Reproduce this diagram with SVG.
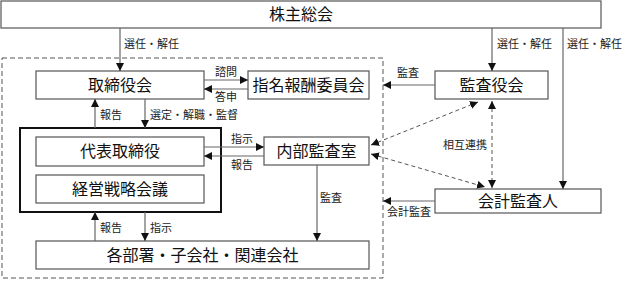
<svg xmlns="http://www.w3.org/2000/svg" width="624" height="281" viewBox="0 0 624 281">
<style>
.box{fill:#fff;stroke:#555;stroke-width:1.2}
.t{font-family:"Noto Sans CJK JP","Noto Sans CJK SC",sans-serif;font-size:16px;fill:#111;text-anchor:middle}
.s{font-family:"Noto Sans CJK JP","Noto Sans CJK SC",sans-serif;font-size:11px;fill:#222}
.c{fill:none;stroke:#666;stroke-width:1.2}
.d{fill:none;stroke:#555;stroke-width:1;stroke-dasharray:4,3}
</style>
<defs>
<marker id="ah" markerUnits="userSpaceOnUse" markerWidth="9" markerHeight="8" refX="8" refY="4" orient="auto-start-reverse">
<path d="M0,0 L8,4 L0,8 z" fill="#111"/>
</marker>
</defs>
<rect x="2" y="58" width="381" height="220" fill="none" stroke="#555" stroke-width="1" stroke-dasharray="5,3"/>
<g id="n-shareholders"><rect class="box" x="1" y="1" width="600" height="27"/><text class="t" x="301" y="20">株主総会</text></g>
<g id="n-board"><rect class="box" x="36" y="71" width="168" height="28"/><text class="t" x="120" y="91">取締役会</text></g>
<g id="n-committee"><rect class="box" x="248" y="71" width="121" height="28"/><text class="t" x="308.5" y="91">指名報酬委員会</text></g>
<g id="n-kansayaku"><rect class="box" x="435" y="71" width="113" height="28"/><text class="t" x="491.5" y="91">監査役会</text></g>
<g id="n-exec"><rect x="20" y="128" width="201" height="84" fill="none" stroke="#111" stroke-width="2"/></g>
<g id="n-ceo"><rect class="box" x="36" y="137" width="168" height="29"/><text class="t" x="120" y="157">代表取締役</text></g>
<g id="n-strategy"><rect class="box" x="36" y="175" width="168" height="28"/><text class="t" x="120" y="195">経営戦略会議</text></g>
<g id="n-internal"><rect class="box" x="264" y="137" width="105" height="28"/><text class="t" x="316.5" y="157">内部監査室</text></g>
<g id="n-depts"><rect class="box" x="36" y="241" width="333" height="28"/><text class="t" x="202.5" y="261">各部署・子会社・関連会社</text></g>
<g id="n-auditor"><rect class="box" x="435" y="189" width="166" height="24"/><text class="t" x="518" y="207">会計監査人</text></g>
<g id="connectors">
<path class="c" d="M120,28 V71" marker-end="url(#ah)"/><text class="s" x="124" y="48">選任・解任</text>
<path class="c" d="M492,28 V71" marker-end="url(#ah)"/><text class="s" x="497" y="48">選任・解任</text>
<path class="c" d="M563,28 V189" marker-end="url(#ah)"/><text class="s" x="567" y="48">選任・解任</text>
<path class="c" d="M204,80 H248" marker-end="url(#ah)"/><text class="s" x="215" y="76">諮問</text>
<path class="c" d="M248,89 H204" marker-end="url(#ah)"/><text class="s" x="215" y="101">答申</text>
<path class="c" d="M95,128 V99" marker-end="url(#ah)"/><text class="s" x="100" y="119">報告</text>
<path class="c" d="M145,99 V128" marker-end="url(#ah)"/><text class="s" x="150" y="119">選定・解職・監督</text>
<path class="c" d="M204,147 H264" marker-end="url(#ah)"/><text class="s" x="231" y="143">指示</text>
<path class="c" d="M264,156 H204" marker-end="url(#ah)"/><text class="s" x="231" y="169">報告</text>
<path class="c" d="M95,241 V212" marker-end="url(#ah)"/><text class="s" x="100" y="232">報告</text>
<path class="c" d="M145,212 V241" marker-end="url(#ah)"/><text class="s" x="150" y="232">指示</text>
<path class="c" d="M317,165 V241" marker-end="url(#ah)"/><text class="s" x="320" y="202">監査</text>
<path class="c" d="M435,85 H383" marker-end="url(#ah)"/><text class="s" x="397" y="77">監査</text>
<path class="c" d="M435,201 H383" marker-end="url(#ah)"/><text class="s" x="387" y="216">会計監査</text>
<path class="d" d="M371,145 L478,102" marker-start="url(#ah)" marker-end="url(#ah)"/>
<path class="d" d="M371,154 L485,187" marker-start="url(#ah)" marker-end="url(#ah)"/>
<path class="d" d="M492,101 V188" marker-start="url(#ah)" marker-end="url(#ah)"/>
<text class="s" x="443" y="149">相互連携</text>
</g>
</svg>
